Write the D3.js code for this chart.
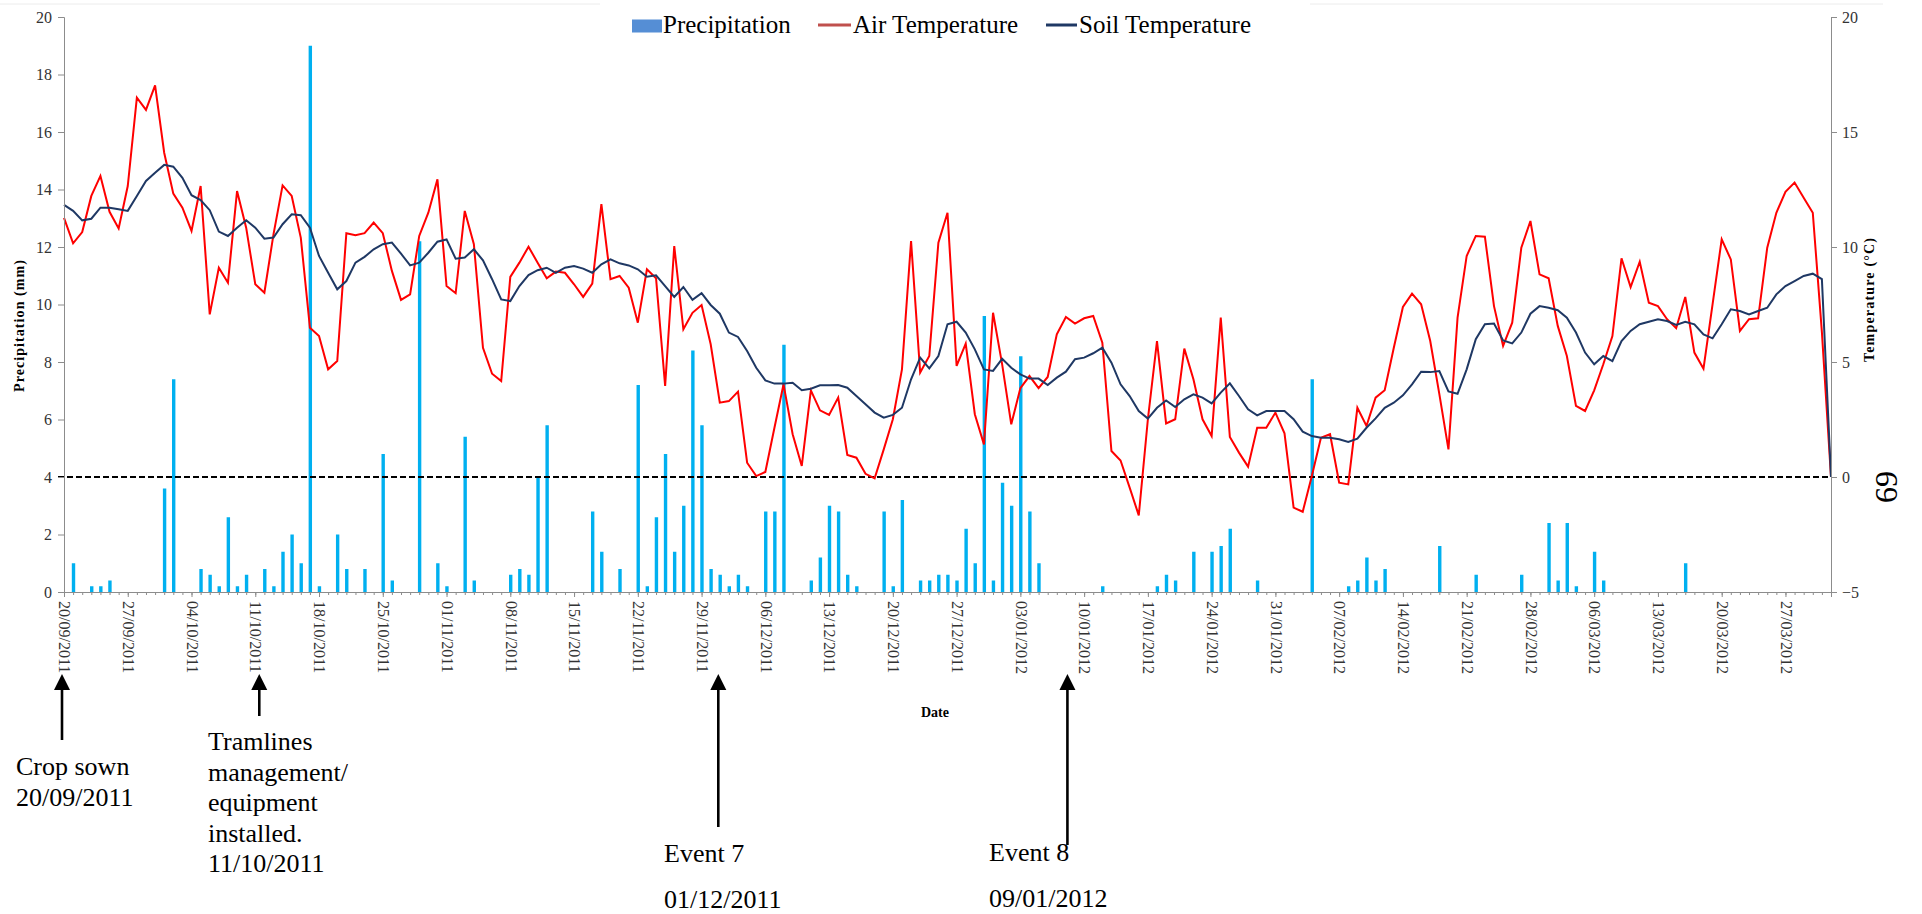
<!DOCTYPE html>
<html>
<head>
<meta charset="utf-8">
<script src="https://cdn.jsdelivr.net/npm/d3@7"></script>
<style>
body { margin: 0; background: #fff; }
svg { display: block; font-family: "Liberation Serif", "Times New Roman", serif; }
svg text { font-family: "Liberation Serif", "Times New Roman", serif; }
</style>
</head>
<body>
<svg id="chart" width="1922" height="914"></svg>
<script>
// daily series, first value is 20/09/2011
const startDate = "2011-09-20";

// precipitation (mm)
const precipitation = [
  0, 1.0, 0, 0.2, 0.2, 0.4, 0, 0, 0, 0,
  0, 3.6, 7.4, 0, 0, 0.8, 0.6, 0.2, 2.6, 0.2,
  0.6, 0, 0.8, 0.2, 1.4, 2.0, 1.0, 19.0, 0.2, 0,
  2.0, 0.8, 0, 0.8, 0, 4.8, 0.4, 0, 0, 12.2,
  0, 1.0, 0.2, 0, 5.4, 0.4, 0, 0, 0, 0.6,
  0.8, 0.6, 4.0, 5.8, 0, 0, 0, 0, 2.8, 1.4,
  0, 0.8, 0, 7.2, 0.2, 2.6, 4.8, 1.4, 3.0, 8.4,
  5.8, 0.8, 0.6, 0.2, 0.6, 0.2, 0, 2.8, 2.8, 8.6,
  0, 0, 0.4, 1.2, 3.0, 2.8, 0.6, 0.2, 0, 0,
  2.8, 0.2, 3.2, 0, 0.4, 0.4, 0.6, 0.6, 0.4, 2.2,
  1.0, 9.6, 0.4, 3.8, 3.0, 8.2, 2.8, 1.0, 0, 0,
  0, 0, 0, 0, 0.2, 0, 0, 0, 0, 0,
  0.2, 0.6, 0.4, 0, 1.4, 0, 1.4, 1.6, 2.2, 0,
  0, 0.4, 0, 0, 0, 0, 0, 7.4, 0, 0,
  0, 0.2, 0.4, 1.2, 0.4, 0.8, 0, 0, 0, 0,
  0, 1.6, 0, 0, 0, 0.6, 0, 0, 0, 0,
  0.6, 0, 0, 2.4, 0.4, 2.4, 0.2, 0, 1.4, 0.4,
  0, 0, 0, 0, 0, 0, 0, 0, 1.0, 0,
  0, 0, 0, 0, 0, 0, 0, 0, 0, 0,
  0, 0, 0, 0, 0
];

// air temperature (°C)
const airTemperature = [
  11.27, 10.16, 10.65, 12.22, 13.09, 11.53, 10.81, 12.65, 16.49, 15.96,
  17.03, 14.1, 12.32, 11.71, 10.7, 12.65, 7.07, 9.1, 8.45, 12.43,
  10.84, 8.38, 8.01, 10.55, 12.68, 12.22, 10.4, 6.49, 6.13, 4.68,
  5.04, 10.6, 10.51, 10.6, 11.06, 10.6, 8.96, 7.7, 7.94, 10.48,
  11.49, 12.94, 8.3, 7.99, 11.57, 10.12, 5.62, 4.49, 4.17, 8.7,
  9.32, 10.01, 9.32, 8.64, 8.93, 8.88, 8.38, 7.83, 8.41, 11.86,
  8.6, 8.74, 8.23, 6.71, 9.03, 8.64, 3.96, 10.04, 6.42, 7.14,
  7.48, 5.77, 3.23, 3.3, 3.71, 0.62, 0.04, 0.22, 2.14, 4.03,
  1.86, 0.48, 3.77, 2.9, 2.7, 3.45, 0.96, 0.84, 0.14, -0.06,
  1.2, 2.51, 4.68, 10.26, 4.54, 5.26, 10.19, 11.49, 4.83, 5.8,
  2.73, 1.42, 7.14, 4.9, 2.29, 3.86, 4.39, 3.86, 4.35, 6.2,
  6.96, 6.67, 6.9, 7.0, 5.84, 1.13, 0.72, -0.46, -1.67, 2.51,
  5.91, 2.33, 2.51, 5.58, 4.25, 2.51, 1.78, 6.93, 1.74, 1.06,
  0.45, 2.14, 2.14, 2.8, 1.9, -1.33, -1.51, 0.04, 1.71, 1.86,
  -0.25, -0.32, 3.01, 2.22, 3.45, 3.77, 5.62, 7.39, 7.97, 7.51,
  5.91, 3.6, 1.2, 6.93, 9.61, 10.48, 10.45, 7.43, 5.7, 6.71,
  9.97, 11.13, 8.81, 8.64, 6.57, 5.26, 3.09, 2.87, 3.77, 4.9,
  6.13, 9.51, 8.26, 9.36, 7.58, 7.43, 6.86, 6.47, 7.83, 5.41,
  4.71, 7.52, 10.33, 9.46, 6.35, 6.86, 6.9, 9.97, 11.49, 12.4,
  12.8, 12.14, 11.49, 6.3, 0
];

// soil temperature (°C)
const soilTemperature = [
  11.83, 11.57, 11.16, 11.23, 11.71, 11.71, 11.64, 11.57, 12.22, 12.87,
  13.23, 13.57, 13.49, 13.01, 12.25, 12.04, 11.6, 10.67, 10.48, 10.84,
  11.16, 10.84, 10.36, 10.41, 10.99, 11.42, 11.38, 10.84, 9.61, 8.88,
  8.16, 8.52, 9.32, 9.57, 9.9, 10.12, 10.19, 9.71, 9.2, 9.32,
  9.75, 10.23, 10.33, 9.49, 9.54, 9.9, 9.42, 8.6, 7.72, 7.65,
  8.3, 8.78, 8.99, 9.1, 8.88, 9.1, 9.17, 9.06, 8.88, 9.25,
  9.46, 9.29, 9.2, 9.03, 8.71, 8.77, 8.3, 7.83, 8.26, 7.7,
  7.99, 7.48, 7.1, 6.28, 6.09, 5.48, 4.75, 4.2, 4.06, 4.06,
  4.1, 3.77, 3.84, 3.99, 3.99, 4.0, 3.88, 3.52, 3.16, 2.8,
  2.58, 2.7, 3.01, 4.25, 5.19, 4.72, 5.26, 6.64, 6.75, 6.28,
  5.55, 4.68, 4.61, 5.14, 4.75, 4.46, 4.28, 4.28, 4.0, 4.32,
  4.58, 5.12, 5.19, 5.38, 5.62, 4.97, 4.03, 3.52, 2.87, 2.54,
  3.01, 3.33, 3.04, 3.38, 3.59, 3.45, 3.2, 3.67, 4.07, 3.52,
  2.94, 2.68, 2.87, 2.87, 2.87, 2.51, 1.97, 1.78, 1.71, 1.71,
  1.64, 1.52, 1.67, 2.14, 2.55, 3.01, 3.23, 3.55, 4.03, 4.58,
  4.56, 4.61, 3.72, 3.62, 4.68, 5.99, 6.64, 6.67, 5.94, 5.81,
  6.28, 7.1, 7.43, 7.36, 7.25, 6.93, 6.28, 5.41, 4.9, 5.26,
  5.04, 5.91, 6.35, 6.64, 6.75, 6.86, 6.78, 6.61, 6.75, 6.64,
  6.2, 6.03, 6.64, 7.29, 7.22, 7.07, 7.22, 7.36, 7.94, 8.3,
  8.52, 8.74, 8.84, 8.6, 0
];

const precipTicks = [0, 2, 4, 6, 8, 10, 12, 14, 16, 18, 20];
const tempTicks = [-5, 0, 5, 10, 15, 20];
const legendLabels = ["Precipitation", "Air Temperature", "Soil Temperature"];

// notes written under the chart
const noteDates = ["2011-09-20", "2011-10-11", "2011-12-01", "2012-01-09"];
const noteLines = [
  ["Crop sown", "20/09/2011"],
  ["Tramlines", "management/", "equipment", "installed.", "11/10/2011"],
  ["Event 7", "01/12/2011"],
  ["Event 8", "09/01/2012"]
];

const svg = d3.select("#chart");
const parse = d3.utcParse("%Y-%m-%d");
const fmt = d3.utcFormat("%d/%m/%Y");

const t0 = parse(startDate);
const days = airTemperature.map((v, i) => d3.utcDay.offset(t0, i));
const tEnd = days[days.length - 1];

const plotLeft = 64, plotRight = 1831, plotTop = 17, plotBottom = 592;

let x = d3.scaleUtc().domain([t0, tEnd]).range([plotLeft, plotRight]);
let yP = d3.scaleLinear().domain([0, 20]).range([plotBottom, plotTop]);
let yT = d3.scaleLinear().domain([-5, 20]).range([plotBottom, plotTop]);

const axisColor = "#8c8c8c";
const serif = "'Liberation Serif', 'Times New Roman', serif";

// faint frame line at top
svg.append("line").attr("x1", 0).attr("x2", 600).attr("y1", 4).attr("y2", 4)
  .attr("stroke", "#ececec");
svg.append("line").attr("x1", 1310).attr("x2", 1883).attr("y1", 4).attr("y2", 4)
  .attr("stroke", "#ececec");

// precipitation bars
svg.append("g")
  .selectAll("rect")
  .data(days.map((d, i) => ({date: d, v: precipitation[i]})).filter(d => d.v > 0))
  .join("rect")
  .attr("x", d => x(d.date) - 1.3)
  .attr("width", 3.4)
  .attr("y", d => yP(d.v))
  .attr("height", d => yP(0) - yP(d.v))
  .attr("fill", "#00b0f0");

// zero degree line
svg.append("line")
  .attr("x1", plotLeft - 6).attr("x2", plotRight)
  .attr("y1", yT(0)).attr("y2", yT(0))
  .attr("stroke", "#000").attr("stroke-width", 2)
  .attr("stroke-dasharray", "6,3");

// temperature lines
let line = d3.line().x((d, i) => x(days[i])).y(d => yT(d));

svg.append("path").datum(airTemperature)
  .attr("d", line)
  .attr("fill", "none").attr("stroke", "#ff0000").attr("stroke-width", 2);

svg.append("path").datum(soilTemperature)
  .attr("d", line)
  .attr("fill", "none").attr("stroke", "#1f3864").attr("stroke-width", 2);

// left axis
let gl = svg.append("g").attr("transform", `translate(${plotLeft},0)`)
  .call(d3.axisLeft(yP).tickValues(precipTicks).tickSize(6).tickPadding(6).tickFormat(d3.format("d")));
// right axis
let gr = svg.append("g").attr("transform", `translate(${plotRight},0)`)
  .call(d3.axisRight(yT).tickValues(tempTicks).tickSize(6).tickPadding(5).tickFormat(d3.format("d")));
// bottom axis, minor day ticks then weekly ticks
let gmin = svg.append("g").attr("transform", `translate(0,${plotBottom})`)
  .call(d3.axisBottom(x).tickValues(d3.utcDay.range(t0, d3.utcDay.offset(tEnd, 1))).tickSize(3).tickFormat(""));
let gb = svg.append("g").attr("transform", `translate(0,${plotBottom})`)
  .call(d3.axisBottom(x).tickValues(d3.utcTuesday.range(t0, tEnd)).tickSize(5).tickFormat(fmt));

[gl, gr, gmin, gb].forEach(g => {
  g.attr("font-family", serif).attr("font-size", 16);
  g.select(".domain").attr("stroke", axisColor);
  g.selectAll(".tick line").attr("stroke", axisColor);
  g.selectAll("text").attr("fill", "#333");
});
gmin.select(".domain").remove();

gb.selectAll(".tick text")
  .attr("text-anchor", "start")
  .attr("transform", "rotate(90)")
  .attr("x", 9).attr("y", 0)
  .attr("dy", "0.33em");

// axis titles
svg.append("text")
  .attr("transform", "translate(24,326) rotate(-90)")
  .attr("text-anchor", "middle")
  .attr("font-size", 14).attr("font-weight", "bold")
  .attr("textLength", 132).attr("lengthAdjust", "spacing")
  .text("Precipitation (mm)");

svg.append("text")
  .attr("transform", "translate(1874,300) rotate(-90)")
  .attr("text-anchor", "middle")
  .attr("font-size", 14).attr("font-weight", "bold")
  .attr("textLength", 124).attr("lengthAdjust", "spacing")
  .text("Temperature (°C)");

svg.append("text")
  .attr("x", 935).attr("y", 717)
  .attr("text-anchor", "middle")
  .attr("font-size", 14).attr("font-weight", "bold")
  .text("Date");

// legend
let lg = svg.append("g").attr("font-size", 25);
lg.append("rect").attr("x", 632).attr("y", 19.5).attr("width", 30).attr("height", 13)
  .attr("fill", "#558ed5");
lg.append("text").attr("x", 663).attr("y", 33).text(legendLabels[0]);
lg.append("line").attr("x1", 818).attr("x2", 851).attr("y1", 25).attr("y2", 25)
  .attr("stroke", "#c0504d").attr("stroke-width", 3);
lg.append("text").attr("x", 853).attr("y", 33).text(legendLabels[1]);
lg.append("line").attr("x1", 1046).attr("x2", 1077).attr("y1", 25).attr("y2", 25)
  .attr("stroke", "#1f3864").attr("stroke-width", 3);
lg.append("text").attr("x", 1079).attr("y", 33).text(legendLabels[2]);

// arrows and notes
const noteLayout = [
  {dx: -2, tail: 740, tx: 16, ty: 775, lh: 30.7},
  {dx: 4, tail: 716, tx: 208, ty: 750, lh: 30.5},
  {dx: -1.5, tail: 827, tx: 664, ty: 862, lh: 46},
  {dx: -7.6, tail: 845, tx: 989, ty: 861, lh: 46}
];
const tip = 674, head = 16;

noteDates.forEach((ds, i) => {
  let L = noteLayout[i];
  let ax = x(parse(ds)) + L.dx;
  let g = svg.append("g");
  g.append("line").attr("x1", ax).attr("x2", ax).attr("y1", tip + head - 1).attr("y2", L.tail)
    .attr("stroke", "#000").attr("stroke-width", 2.6);
  g.append("path")
    .attr("d", `M${ax},${tip} L${ax - 8},${tip + head} L${ax + 8},${tip + head} Z`)
    .attr("fill", "#000");
  noteLines[i].forEach((s, j) => {
    g.append("text").attr("x", L.tx).attr("y", L.ty + j * L.lh)
      .attr("font-size", 26).attr("fill", "#000").text(s);
  });
});

// page number
svg.append("text")
  .attr("transform", "translate(1897,487) rotate(-90)")
  .attr("text-anchor", "middle")
  .attr("font-size", 32)
  .text("69");
</script>
</body>
</html>
